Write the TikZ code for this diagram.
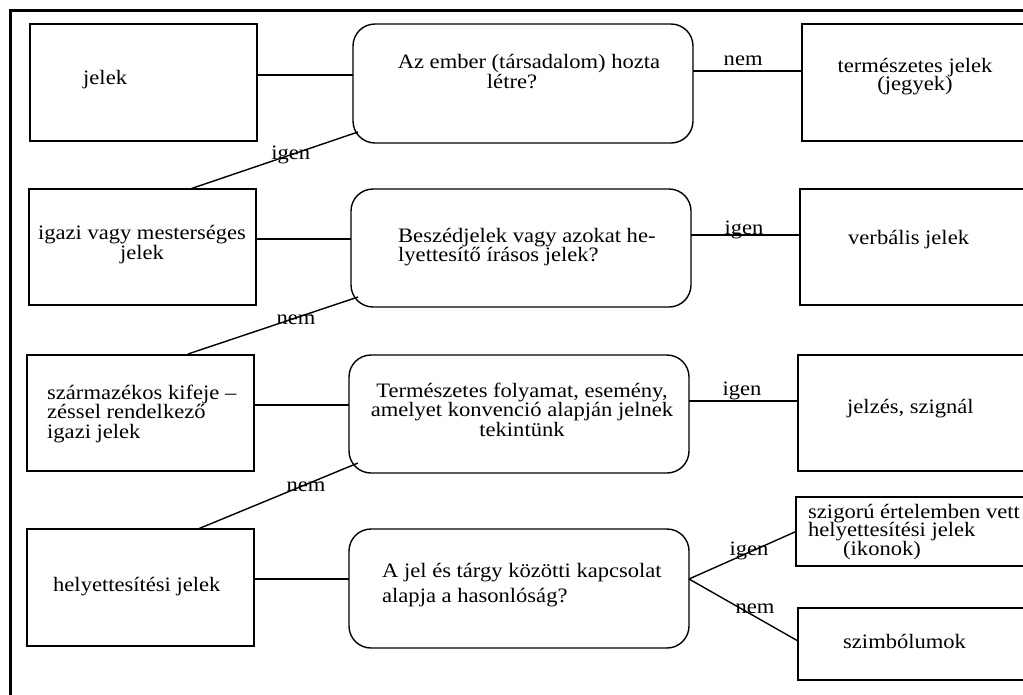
\documentclass[tikz,border=0pt]{standalone}
\usepackage{fontspec}
\setmainfont{Liberation Serif}[FakeStretch=1.1]
% stacked lines with a fixed baseline distance; baseline of the block = first line
\newcommand\linesc[2]{\vtop{\hsize=400pt\parskip=0pt\centering\baselineskip=#1\lineskiplimit=-\maxdimen\lineskip=0pt #2\par}}
\newcommand\linesl[2]{\vtop{\hsize=400pt\parskip=0pt\raggedright\baselineskip=#1\lineskiplimit=-\maxdimen\lineskip=0pt #2\par}}
\begin{document}
\begin{tikzpicture}[x=1pt,y=-1pt,
  box/.style 2 args={draw, line width=1.4pt, inner sep=0pt, outer sep=0pt,
    minimum width=#1, minimum height=#2, anchor=north west},
  qbox/.style 2 args={box={#1}{#2}, rounded corners=22pt},
  txt/.style={font=\fontsize{20.5}{24}\selectfont, inner sep=0pt},
  lbl/.style={txt, anchor=base},
  conn/.style={line width=1.4pt}]
\useasboundingbox (0,0) rectangle (1023,694);
\fill[white] (0,0) rectangle (1023,694);

% outer frame
\draw[line width=3.2pt] (1040,10.8) -- (10.8,10.8) -- (10.8,710);

% left column
\node[box={227pt}{117pt}] (b1) at (30,24) {};
\node[box={227pt}{116pt}] (b2) at (29,189) {};
\node[box={227pt}{116pt}] (b3) at (27,355) {};
\node[box={227pt}{117pt}] (b4) at (27,529) {};

% questions
\node[qbox={340pt}{119pt}] (q1) at (353,24) {};
\node[qbox={340pt}{118pt}] (q2) at (351,189) {};
\node[qbox={340pt}{118pt}] (q3) at (349,355) {};
\node[qbox={340pt}{119pt}] (q4) at (349,529) {};

% right column
\node[box={230pt}{117pt}] (t1) at (802,24) {};
\node[box={230pt}{116pt}] (t2) at (800,189) {};
\node[box={230pt}{116pt}] (t3) at (798,355) {};
\node[box={234pt}{69pt}]  (t4) at (796,497) {};
\node[box={232pt}{72pt}]  (t5) at (798,608) {};

% texts
\node[txt, anchor=base west] (b1t) at (83,84) {jelek};
\node[txt, anchor=base] (b2t) at (142,239) {\linesc{20pt}{igazi vagy mesterséges\\jelek}};
\node[txt, anchor=base west] (b3t) at (47,399) {\linesl{19.5pt}{származékos kifeje –\\zéssel rendelkező\\igazi jelek}};
\node[txt, anchor=base west] (b4t) at (53,591) {helyettesítési jelek};

\node[txt, anchor=base] (q1t) at (529,68) {\linesc{20pt}{Az ember (társadalom) hozta\\létre?\hspace*{34pt}}};
\node[txt, anchor=base west] (q2t) at (398,242) {\linesl{19.5pt}{Beszédjelek vagy azokat he-\\lyettesítő írásos jelek?}};
\node[txt, anchor=base] (q3t) at (522,397) {\linesc{19.5pt}{Természetes folyamat, esemény,\\amelyet konvenció alapján jelnek\\tekintünk}};
\node[txt, anchor=base west] (q4t) at (382,577) {\linesl{25pt}{A jel és tárgy közötti kapcsolat\\alapja a hasonlóság?}};

\node[txt, anchor=base] (t1t) at (915,72) {\linesc{18.5pt}{természetes jelek\\(jegyek)}};
\node[txt, anchor=base west] (t2t) at (848,244) {verbális jelek};
\node[txt, anchor=base west] (t3t) at (847,413) {jelzés, szignál};
\node[txt, anchor=base west] (t4t) at (808,518) {\linesl{18.5pt}{szigorú értelemben vett\\helyettesítési jelek\\\hspace*{35pt}(ikonok)}};
\node[txt, anchor=base west] (t5t) at (843,648) {szimbólumok};

% row 1
\draw[conn] ([yshift=7.5pt]b1.east) -- ([yshift=8.5pt]q1.west);
\draw[conn] ([yshift=12.5pt]q1.east) -- node[lbl, pos=.46, yshift=6pt] {nem} ([yshift=11.5pt]t1.west);
\draw[conn] ([xshift=5pt,yshift=11pt]q1.south west) -- node[lbl, pos=.4, yshift=-4.2pt] {igen} ([xshift=47.5pt]b2.north);

% row 2
\draw[conn] ([yshift=8pt]b2.east) -- ([yshift=9pt]q2.west);
\draw[conn] ([yshift=13pt]q2.east) -- node[lbl, pos=.486, yshift=1pt] {igen} ([yshift=12pt]t2.west);
\draw[conn] ([xshift=7pt,yshift=10pt]q2.south west) -- node[lbl, pos=.365, yshift=-7pt] {nem} ([xshift=47.5pt,yshift=1pt]b3.north);

% row 3
\draw[conn] ([yshift=8pt]b3.east) -- ([yshift=9pt]q3.west);
\draw[conn] ([yshift=13pt]q3.east) -- node[lbl, pos=.486, yshift=6pt] {igen} ([yshift=12pt]t3.west);
\draw[conn] ([xshift=9pt,yshift=10pt]q3.south west) -- node[lbl, pos=.325, yshift=-7.5pt] {nem} ([xshift=57.5pt]b4.north);

% row 4
\draw[conn] ([yshift=8.5pt]b4.east) -- ([yshift=9.5pt]q4.west);
\coordinate (fork) at ([yshift=9.5pt]q4.east);
\draw[conn] (fork) -- node[lbl, pos=.56, yshift=-2.6pt] {igen} (t4.west);
\draw[conn] (fork) -- node[lbl, pos=.605, yshift=3.5pt] {nem} ([yshift=3pt]t5.west);
\end{tikzpicture}
\end{document}
